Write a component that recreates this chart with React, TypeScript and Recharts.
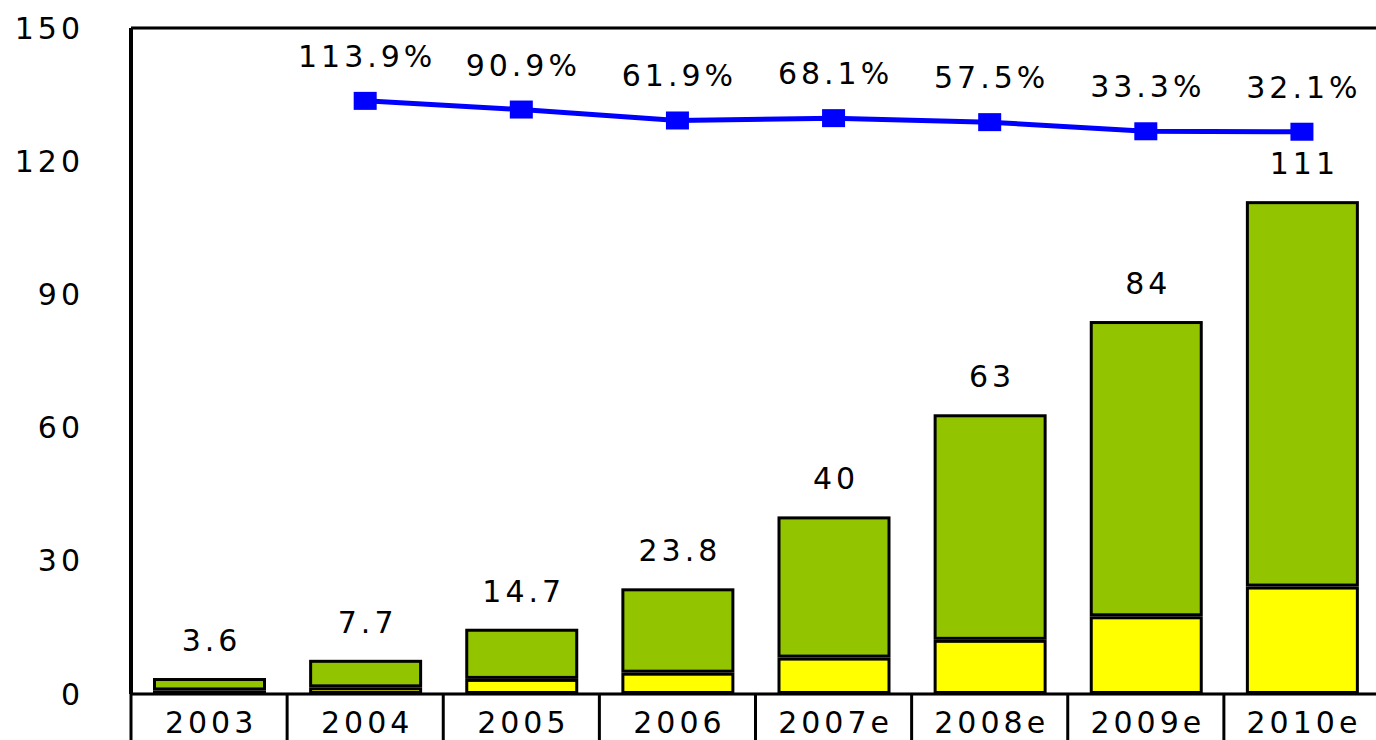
import React from 'react';
import {
  ComposedChart,
  Bar,
  Line,
  XAxis,
  YAxis,
  CartesianGrid,
  ReferenceLine,
  LabelList,
} from 'recharts';

const years = ['2003', '2004', '2005', '2006', '2007e', '2008e', '2009e', '2010e'];
const totals = [3.6, 7.7, 14.7, 23.8, 40, 63, 84, 111];
const yellowPart = [0.8, 1.5, 3.4, 4.8, 8.2, 12.2, 17.5, 24.2];
const growthRates: (number | null)[] = [null, 113.9, 90.9, 61.9, 68.1, 57.5, 33.3, 32.1];
const yTicks = [0, 30, 60, 90, 120, 150];

const data = years.map((year, i) => ({
  year,
  total: totals[i],
  yellow: yellowPart[i],
  green: Math.round((totals[i] - yellowPart[i]) * 10) / 10,
  growth: growthRates[i],
}));

const FONT = '"DejaVu Sans", sans-serif';
const FS = 30;
const LS = 4;

const InsetBar = (props: any) => {
  const { x, y, width, height, fill } = props;
  if (width == null || height == null) return null;
  const h = Math.max(height - 3, 0.01);
  return (
    <rect
      x={x + 1.5}
      y={y + 1.5}
      width={Math.max(width - 3, 0)}
      height={h}
      fill={fill}
      stroke="#000"
      strokeWidth={3}
    />
  );
};

const SquareDot = (props: any) => {
  const { cx, cy, value } = props;
  if (cx == null || cy == null || value == null) return null;
  return <rect x={cx - 11.5} y={cy - 9} width={23} height={18} fill="#0000FF" />;
};

const XTick = (props: any) => {
  const { x, y, payload } = props;
  const off = payload && payload.offset != null ? payload.offset : 78;
  return (
    <g>
      <line x1={x - off} x2={x - off} y1={y} y2={y + 50} stroke="#000" strokeWidth={3} />
      <text
        x={x + LS / 2}
        y={y + 39}
        textAnchor="middle"
        fontFamily={FONT}
        fontSize={FS}
        letterSpacing={LS}
        fill="#000"
      >
        {payload.value}
      </text>
    </g>
  );
};

const BarTopLabel = (props: any) => {
  const { x, y, width, value } = props;
  if (value == null) return null;
  return (
    <text
      x={x + width / 2 + LS / 2}
      y={y - 27}
      textAnchor="middle"
      fontFamily={FONT}
      fontSize={FS}
      letterSpacing={LS}
      fill="#000"
    >
      {value}
    </text>
  );
};

const RateLabel = (props: any) => {
  const { x, y, value } = props;
  if (value == null || x == null || y == null) return null;
  return (
    <text
      x={x + LS / 2}
      y={y - 34}
      textAnchor="middle"
      fontFamily={FONT}
      fontSize={FS}
      letterSpacing={LS}
      fill="#000"
    >
      {`${value}%`}
    </text>
  );
};

export default function App() {
  return (
    <div
      style={{
        position: 'absolute',
        left: 0,
        top: 0,
        width: 1376,
        height: 740,
        overflow: 'hidden',
        background: '#fff',
      }}
    >
      <ComposedChart
        width={1380}
        height={740}
        data={data}
        margin={{ top: 28, right: 0, bottom: 0, left: 0 }}
        barCategoryGap={0}
      >
        <CartesianGrid vertical={false} stroke="#BBBBBB" strokeWidth={2.5} />
        <XAxis
          dataKey="year"
          height={46}
          axisLine={{ stroke: '#000', strokeWidth: 3 }}
          tickLine={false}
          tickSize={0}
          tickMargin={0}
          interval={0}
          tick={<XTick />}
        />
        <YAxis
          yAxisId="l"
          width={131}
          domain={[0, 150]}
          ticks={yTicks}
          axisLine={{ stroke: '#000', strokeWidth: 4 }}
          tickLine={false}
          tickSize={0}
          tickMargin={47}
          tick={{ fontFamily: FONT, fontSize: FS, fill: '#000', letterSpacing: LS }}
          allowDataOverflow
        />
        <YAxis yAxisId="r" orientation="right" hide domain={[-1458, 307]} allowDataOverflow />
        <ReferenceLine yAxisId="l" y={150} stroke="#000" strokeWidth={3} ifOverflow="visible" />
        <Bar
          yAxisId="l"
          dataKey="yellow"
          stackId="s"
          fill="#FFFF00"
          barSize={113}
          shape={<InsetBar />}
          isAnimationActive={false}
        />
        <Bar
          yAxisId="l"
          dataKey="green"
          stackId="s"
          fill="#92C400"
          barSize={113}
          shape={<InsetBar />}
          isAnimationActive={false}
        >
          <LabelList dataKey="total" content={<BarTopLabel />} />
        </Bar>
        <Line
          yAxisId="r"
          dataKey="growth"
          stroke="#0000FF"
          strokeWidth={5}
          dot={<SquareDot />}
          activeDot={false}
          connectNulls
          isAnimationActive={false}
        >
          <LabelList dataKey="growth" content={<RateLabel />} />
        </Line>
      </ComposedChart>
    </div>
  );
}
